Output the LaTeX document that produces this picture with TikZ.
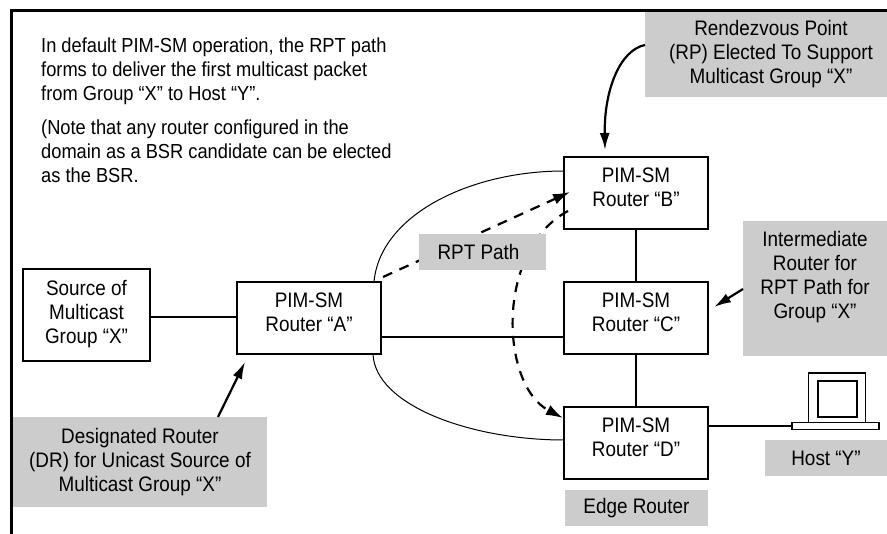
\documentclass[tikz,border=0pt]{standalone}
\usepackage{fontspec}
\setmainfont[FakeStretch=0.9]{Liberation Sans}
\usetikzlibrary{arrows.meta}
\definecolor{greybox}{RGB}{204,204,204}
\tikzset{
  router/.style={draw=black,line width=1.8pt,fill=white,minimum width=144pt,minimum height=72pt,align=center,inner sep=0pt,text depth=12pt},
  labelbox/.style={fill=greybox,align=center,inner sep=0pt},
  note/.style={align=left,anchor=north west,inner sep=0pt,font=\fontsize{20.3}{23.8}\selectfont},
  link/.style={line width=1.7pt},
  thin link/.style={line width=1pt},
  call/.style={line width=2.2pt,-{Latex[length=17pt,width=10pt]}},
  rpt/.style={line width=2.2pt,dash pattern=on 10pt off 8pt,-{Latex[length=17pt,width=11pt]}},
  laptop part/.style={draw=black,line width=1.7pt,fill=white,inner sep=0pt}
}
\begin{document}
\begin{tikzpicture}[x=1pt,y=-1pt,font=\fontsize{21}{24}\selectfont]
\useasboundingbox (0,0) rectangle (887,534);
\fill[white] (0,0) rectangle (887,534);

\node[labelbox,minimum width=242pt,minimum height=85pt] (rp) at (766,54.5) {\hspace*{10pt}Rendezvous Point\\\hspace*{10pt}(RP) Elected To Support\\\hspace*{10pt}Multicast Group “X”};
\draw[line width=3pt] (11.5,534) -- (11.5,10.8) -- (887,10.8);

\node[note] (intro) at (41,38) {In default PIM-SM operation, the RPT path\\forms to deliver the first multicast packet\\from Group “X” to Host “Y”.};
\node[note] (aside) at (41,120) {(Note that any router configured in the\\domain as a BSR candidate can be elected\\as the BSR.};

\node[router,minimum width=127pt,minimum height=92pt,text depth=6pt] (S) at (86.5,315) {Source of\\Multicast\\Group “X”};
\node[router] (A) at (309,318) {PIM-SM\\Router “A”};
\node[router] (B) at (636,193) {PIM-SM\\Router “B”};
\node[router] (C) at (636,318) {PIM-SM\\Router “C”};
\node[router] (D) at (636,443) {PIM-SM\\Router “D”};

\coordinate (Aup) at (374,282);
\coordinate (Bw) at (564,171);
\coordinate (Adn) at (373,354);
\coordinate (Dw) at (564,440);
\coordinate (Astart) at (383,277);
\coordinate (Bin) at (570,192);
\coordinate (Bout) at (568,211);
\coordinate (Din) at (563,418);

\draw[link] (S.east |- 0,317) -- (A.west |- 0,317);
\draw[link] (A.east |- 0,337) -- (C.west |- 0,337);
\draw[link] (B) -- (C);
\draw[link] (C) -- (D);
\draw[thin link] (Aup) .. controls (380,215) and (470,171) .. (Bw);
\draw[thin link] (Adn) .. controls (375,405) and (470,440) .. (Dw);
\draw[rpt] (Astart) -- (Bin);
\draw[rpt] (Bout) .. controls (495,250) and (500,385) .. (Din);

\node[labelbox,minimum width=127pt,minimum height=36pt] (rptl) at (482.5,252) {\hspace*{-8pt}RPT Path};
\node[labelbox,minimum width=144pt,minimum height=135pt,text depth=28pt] (ic) at (815,288.5) {Intermediate\\Router for\\RPT Path for\\Group “X”};
\node[labelbox,minimum width=254pt,minimum height=90pt] (dr) at (140,462) {Designated Router\\(DR) for Unicast Source of\\Multicast Group “X”};
\node[labelbox,minimum width=122pt,minimum height=36pt] (host) at (826,458) {Host “Y”};
\node[labelbox,minimum width=143pt,minimum height=36pt] (edge) at (636.5,508) {Edge Router};

\coordinate (rptail) at (645,45);
\coordinate (rphead) at (605,150);
\draw[call] (rptail) .. controls (620,50) and (604,90) .. (rphead);
\coordinate (ictail) at (743,289);
\coordinate (ichead) at (714,307);
\draw[call] (ictail) -- (ichead);
\coordinate (drtail) at (218,417);
\coordinate (drhead) at (245,362);
\draw[call] (drtail) -- (drhead);

\node[laptop part,minimum width=57pt,minimum height=50pt] (lap) at (837,398) {};
\node[laptop part,minimum width=39pt,minimum height=36pt] (scr) at (837.5,399) {};
\node[laptop part,minimum width=87pt,minimum height=7pt] (base) at (835.5,426) {};
\draw[line width=2pt] (D.east |- base.west) -- (base.west);
\end{tikzpicture}
\end{document}
